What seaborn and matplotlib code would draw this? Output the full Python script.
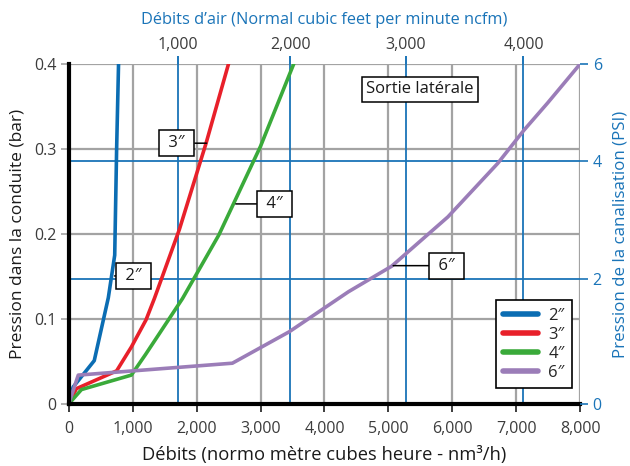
import numpy as np
import pandas as pd
import seaborn as sns
import matplotlib
matplotlib.use("Agg")
import matplotlib.pyplot as plt

# ---- data -------------------------------------------------------------------
# flow in nm3/h (x) vs pressure drop in bar (y), one curve per pipe size
FLOW_2 = [0, 70, 400, 620, 720, 750, 780]
BAR_2 = [0, 0.020, 0.051, 0.125, 0.175, 0.300, 0.400]

FLOW_3 = [0, 120, 750, 980, 1210, 1340, 1730, 2150, 2500]
BAR_3 = [0, 0.018, 0.039, 0.067, 0.099, 0.124, 0.205, 0.307, 0.400]

FLOW_4 = [0, 200, 980, 1200, 1420, 1780, 2350, 3000, 3520]
BAR_4 = [0, 0.017, 0.034, 0.058, 0.083, 0.124, 0.199, 0.303, 0.400]

FLOW_6 = [0, 150, 2560, 3450, 4375, 5050, 5930, 6710, 7120, 7490, 8000]
BAR_6 = [0, 0.034, 0.048, 0.085, 0.132, 0.162, 0.220, 0.283, 0.322, 0.354, 0.400]

SIZES = ["2\u2033", "3\u2033", "4\u2033", "6\u2033"]
COLORS = ["#0b6db3", "#e8202a", "#3aaa3a", "#9b7db8"]

# secondary scales (positions as printed on the reference, in nm3/h and bar)
NCFM_LABELS = ["1,000", "2,000", "3,000", "4,000"]
NCFM_AT_FLOW = [1705, 3468, 5272, 7112]
PSI_LABELS = ["0", "2", "4", "6"]
PSI_AT_BAR = [0, 0.1474, 0.2859, 0.4]

X_TICKS = [0, 1000, 2000, 3000, 4000, 5000, 6000, 7000, 8000]
X_TICK_LABELS = ["0", "1,000", "2,000", "3,000", "4,000", "5,000", "6,000", "7,000", "8,000"]
Y_TICKS = [0, 0.1, 0.2, 0.3, 0.4]
Y_TICK_LABELS = ["0", "0.1", "0.2", "0.3", "0.4"]

# label boxes: (text, box x, box y, curve x, curve y)
CALLOUTS = [
    ("2\u2033", 1015, 0.1506, 718, 0.1506),
    ("3\u2033", 1690, 0.3067, 2156, 0.3067),
    ("4\u2033", 3219, 0.2353, 2613, 0.2353),
    ("6\u2033", 5914, 0.1627, 5075, 0.1627),
]

BLUE = "#1a74b8"
GREY = "#a3a3a3"
TEXT = "#3c3c3c"

sns.set_theme(style="white")
plt.rcParams["font.family"] = ["Open Sans", "DejaVu Sans"]

df = pd.concat(
    [
        pd.DataFrame({"flow": f, "bar": b, "size": s})
        for f, b, s in zip([FLOW_2, FLOW_3, FLOW_4, FLOW_6],
                           [BAR_2, BAR_3, BAR_4, BAR_6], SIZES)
    ],
    ignore_index=True,
)

fig = plt.figure(figsize=(6.3, 4.66), dpi=100)
ax = fig.add_axes([0.109, 0.133, 0.812, 0.730])

# grids
for x in X_TICKS[1:]:
    ax.axvline(x, color=GREY, lw=1.6, zorder=1)
for y in Y_TICKS[1:]:
    ax.axhline(y, color=GREY, lw=1.6, zorder=1)
for x in NCFM_AT_FLOW:
    ax.axvline(x, color=BLUE, lw=1.3, zorder=1.5)
for y in PSI_AT_BAR[1:-1]:
    ax.axhline(y, color=BLUE, lw=1.3, zorder=1.5)

sns.lineplot(data=df, x="flow", y="bar", hue="size", palette=COLORS,
             sort=False, estimator=None, lw=2.6, ax=ax, zorder=3)

ax.set_xlim(0, 8000)
ax.set_ylim(0, 0.4)
ax.set_xticks(X_TICKS, X_TICK_LABELS)
ax.set_yticks(Y_TICKS, Y_TICK_LABELS)
ax.tick_params(axis="both", labelsize=11.5, labelcolor=TEXT)
ax.tick_params(axis="y", left=True, length=6, width=1.2, color=GREY, pad=3)
ax.tick_params(axis="x", bottom=False, pad=6)
for side in ["top", "right"]:
    ax.spines[side].set_visible(False)
for side in ["left", "bottom"]:
    ax.spines[side].set_color("black")
    ax.spines[side].set_linewidth(3)
    ax.spines[side].set_zorder(5)
ax.set_xlabel("Débits (normo mètre cubes heure - nm³/h)", fontsize=13.2,
              color="#1a1a1a", labelpad=7)
ax.set_ylabel("Pression dans la conduite (bar)", fontsize=12.5,
              color="#1a1a1a", labelpad=6)

# legend
leg = ax.legend(loc="lower right", bbox_to_anchor=(0.984, 0.047),
                fontsize=12, frameon=True, fancybox=False, handlelength=2.1,
                borderpad=0.45, labelspacing=0.18, handletextpad=0.6,
                borderaxespad=0)
leg.get_frame().set_edgecolor("black")
leg.get_frame().set_linewidth(1.2)
leg.get_frame().set_alpha(1)
for h in leg.get_lines():
    h.set_linewidth(4)

# callouts
for text, tx, ty, cx, cy in CALLOUTS:
    ax.annotate(" " + text + " ", xy=(cx, cy), xytext=(tx, ty),
                ha="center", va="center", fontsize=12, color="#1a1a1a", zorder=6,
                bbox=dict(boxstyle="square,pad=0.3", fc="white", ec="black", lw=1.1),
                arrowprops=dict(arrowstyle="-", color="black", lw=1.1,
                                shrinkA=0, shrinkB=0))
ax.text(5490, 0.370, "Sortie latérale", ha="center", va="center", fontsize=12,
        color="#1a1a1a", zorder=6,
        bbox=dict(boxstyle="square,pad=0.25", fc="white", ec="black", lw=1.1))

# right axis: PSI
ax_r = ax.twinx()
ax_r.set_ylim(ax.get_ylim())
ax_r.set_yticks(PSI_AT_BAR, PSI_LABELS)
ax_r.tick_params(axis="y", right=True, length=6, width=1.2, color=BLUE,
                 labelcolor=BLUE, labelsize=11.5, pad=3)
for s in ax_r.spines.values():
    s.set_visible(False)
ax_r.set_ylabel("Pression de la canalisation (PSI)", fontsize=12.2,
                color=BLUE, labelpad=8)

# top axis: ncfm
ax_t = ax.twiny()
ax_t.set_xlim(ax.get_xlim())
ax_t.set_xticks(NCFM_AT_FLOW, NCFM_LABELS)
ax_t.tick_params(axis="x", top=True, length=6, width=1.4, color=BLUE,
                 labelcolor=TEXT, labelsize=11.5, pad=2)
for s in ax_t.spines.values():
    s.set_visible(False)
ax_t.set_xlabel("Débits d\u2019air (Normal cubic feet per minute ncfm)",
                fontsize=11.8, color=BLUE, labelpad=9)

fig.savefig("out.png", dpi=100)
